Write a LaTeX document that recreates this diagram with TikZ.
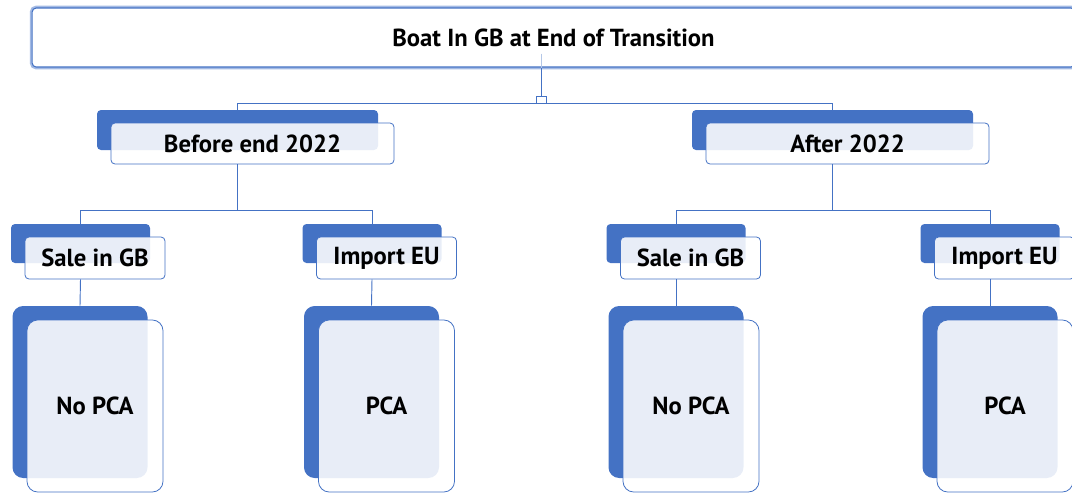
\documentclass[tikz,border=0pt]{standalone}
\usepackage{fontspec}
\setmainfont{PT Sans}
\usetikzlibrary{positioning, calc}
\definecolor{boxblue}{HTML}{4472C4}
\definecolor{glowblue}{HTML}{A3BAE4}

\begin{document}
\begin{tikzpicture}[
    x=0.75pt, y=-0.75pt,
    every node/.style={rectangle, inner sep=0pt, font=\bfseries},
    titlebox/.style={draw=boxblue, line width=0.8pt, fill=white, rounded corners=3pt, minimum width=782pt, minimum height=44.25pt, font=\fontsize{18.5}{22}\selectfont\bfseries, preaction={draw=glowblue, line width=3.5pt}},
    backmid/.style={fill=boxblue, rounded corners=3pt, minimum width=210.75pt, minimum height=30pt},
    frontmid/.style={draw=boxblue, line width=0.6pt, fill=white, fill opacity=0.88, text opacity=1, rounded corners=3pt, minimum width=212.25pt, minimum height=30.75pt, font=\fontsize{18.5}{22}\selectfont\bfseries},
    backsmall/.style={fill=boxblue, rounded corners=3pt, minimum width=104.25pt, minimum height=29.25pt},
    frontsmall/.style={frontmid, minimum width=105pt, minimum height=31.5pt},
    backtall/.style={fill=boxblue, rounded corners=8pt, minimum width=101.25pt, minimum height=129pt},
    fronttall/.style={frontmid, rounded corners=8pt, minimum width=102pt, minimum height=129pt},
    hub/.style={draw=boxblue, line width=0.6pt, fill=white, minimum width=7.5pt, minimum height=5.25pt},
    conn/.style={draw=boxblue, line width=0.7pt}
]
\clip (0,0) rectangle (1072,493);

% root
\node[titlebox] (top) at (553.5,37.5) {Boat In GB at End of Transition};
\node[hub] (hub) at (541,99.5) {};

% second level
\node[backmid] (beforeback) at (237.5,130) {};
\node[frontmid] (before) at ([shift={(15,13.5)}]beforeback.center) {Before end 2022};
\node[backmid] (afterback) at (832.5,130) {};
\node[frontmid] (after) at ([shift={(15,13.5)}]afterback.center) {After 2022};

% third level
\node[backsmall] (saleaback) at (80.5,243.5) {};
\node[frontsmall] (salea) at ([shift={(14.5,14.5)}]saleaback.center) {Sale in GB};
\node[backsmall] (importaback) at (372,243.5) {};
\node[frontsmall] (importa) at ([shift={(14.5,14.5)}]importaback.center) {Import EU};
\node[backsmall] (salebback) at (676,243.5) {};
\node[frontsmall] (saleb) at ([shift={(14.5,14.5)}]salebback.center) {Sale in GB};
\node[backsmall] (importbback) at (990,243.5) {};
\node[frontsmall] (importb) at ([shift={(14.5,14.5)}]importbback.center) {Import EU};

% leaves
\node[backtall] (nopcaaback) at (80,392) {};
\node[fronttall] (nopcaa) at ([shift={(15,14)}]nopcaaback.center) {No PCA};
\node[backtall] (pcaaback) at (371.5,392) {};
\node[fronttall] (pcaa) at ([shift={(15,14)}]pcaaback.center) {PCA};
\node[backtall] (nopcabback) at (676,392) {};
\node[fronttall] (nopcab) at ([shift={(15,14)}]nopcabback.center) {No PCA};
\node[backtall] (pcabback) at (990,392) {};
\node[fronttall] (pcab) at ([shift={(15,14)}]pcabback.center) {PCA};

\coordinate (busa) at (237.5,210);
\coordinate (busb) at (832.5,210);

\draw[conn, boxblue!40] ([yshift=10.5pt]hub.north |- top.south) -- (hub.north |- top.south);
\draw[conn] (hub.north |- top.south) -- (hub.north);
\draw[conn] (hub.south) -| (beforeback.north);
\draw[conn] (hub.south) -| (afterback.north);

\draw[conn] (beforeback.center |- before.south) -- (busa);
\draw[conn] (busa) -| (saleaback.north);
\draw[conn] (busa) -| (importaback.north);
\draw[conn] (afterback.center |- after.south) -- (busb);
\draw[conn] (busb) -| (salebback.north);
\draw[conn] (busb) -| (importbback.north);

\draw[conn] (saleaback.center |- salea.south) -- (nopcaaback.north);
\draw[conn] (importaback.center |- importa.south) -- (pcaaback.north);
\draw[conn] (salebback.center |- saleb.south) -- (nopcabback.north);
\draw[conn] (importbback.center |- importb.south) -- (pcabback.north);

\end{tikzpicture}
\end{document}
